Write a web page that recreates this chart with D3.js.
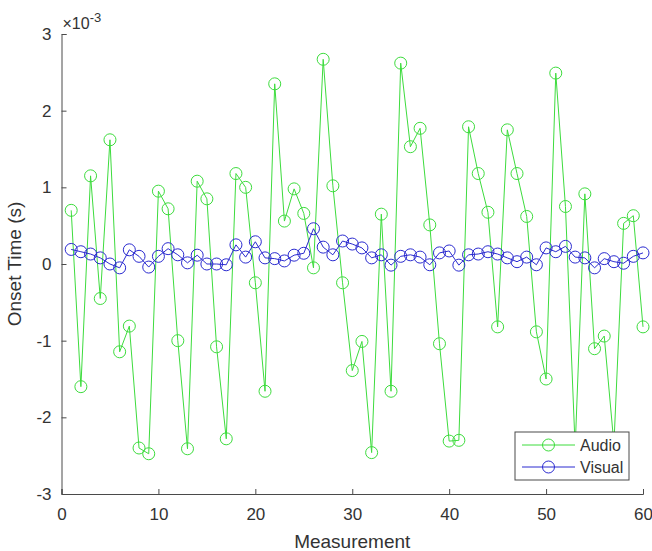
<!DOCTYPE html>
<html>
<head>
<meta charset="utf-8">
<script src="https://cdn.jsdelivr.net/npm/d3@7"></script>
<style>
  body { margin: 0; background: #fff; }
  text { font-family: "Liberation Sans", Arial, Helvetica, sans-serif; fill: #333; }
</style>
</head>
<body>
<div id="chart"></div>
<script>
// onset times in units of 1e-3 s, measurement 1..60
const audio = [
  0.70, -1.60, 1.15, -0.45, 1.62, -1.145, -0.81, -2.40, -2.475, 0.95,
  0.72, -1.00, -2.41, 1.08, 0.85, -1.08, -2.28, 1.18, 1.00, -0.245,
  -1.66, 2.35, 0.56, 0.98, 0.66, -0.05, 2.67, 1.02, -0.245, -1.39,
  -1.01, -2.46, 0.65, -1.66, 2.62, 1.53, 1.77, 0.51, -1.04, -2.31,
  -2.30, 1.79, 1.18, 0.675, -0.82, 1.75, 1.18, 0.62, -0.885, -1.50,
  2.49, 0.75, -2.40, 0.915, -1.105, -0.94, -2.35, 0.53, 0.63, -0.82
];
const visual = [
  0.19, 0.16, 0.13, 0.08, 0.00, -0.05, 0.185, 0.10, -0.04, 0.10,
  0.20, 0.12, 0.015, 0.115, 0.00, 0.00, -0.01, 0.25, 0.09, 0.29,
  0.08, 0.07, 0.04, 0.115, 0.14, 0.46, 0.22, 0.12, 0.30, 0.26,
  0.21, 0.08, 0.12, -0.015, 0.10, 0.12, 0.09, -0.01, 0.145, 0.17,
  -0.015, 0.12, 0.13, 0.16, 0.13, 0.08, 0.03, 0.09, -0.01, 0.21,
  0.16, 0.23, 0.09, 0.08, -0.05, 0.07, 0.03, 0.01, 0.10, 0.145
];
const seriesNames = ["Audio", "Visual"];
const seriesColors = ["#3ddc3d", "#2b2bd0"];
const xTicks = [0, 10, 20, 30, 40, 50, 60];
const yTicks = [-3, -2, -1, 0, 1, 2, 3];

const W = 652, H = 551;
const margin = {top: 34, right: 9, bottom: 57, left: 61.5};
const width = W - margin.left - margin.right;
const height = H - margin.top - margin.bottom;

const svg = d3.select("#chart").append("svg")
    .attr("width", W)
    .attr("height", H);

const g = svg.append("g")
    .attr("transform", `translate(${margin.left},${margin.top})`);

const x = d3.scaleLinear().domain([0, 60]).range([0, width]);
const y = d3.scaleLinear().domain([-3, 3]).range([height, 0]);

const axisColor = "#4a4a4a";
const fmt = d => d3.format("d")(d).replace("\u2212", "-");

// x axis (ticks pointing inward)
const xAxis = g.append("g")
    .attr("transform", `translate(0,${height})`)
    .call(d3.axisBottom(x).tickValues(xTicks).tickFormat(fmt).tickSize(-5).tickPadding(14));
xAxis.select(".domain").attr("stroke", axisColor);
xAxis.selectAll(".tick line").attr("stroke", axisColor);
xAxis.selectAll(".tick text").attr("font-size", 17).attr("fill", "#333");

// y axis
const yAxis = g.append("g")
    .call(d3.axisLeft(y).tickValues(yTicks).tickFormat(fmt).tickSize(-5).tickPadding(10));
yAxis.select(".domain").attr("stroke", axisColor);
yAxis.selectAll(".tick line").attr("stroke", axisColor);
yAxis.selectAll(".tick text").attr("font-size", 17).attr("fill", "#333");

// exponent label
const expo = g.append("text")
    .attr("x", 1)
    .attr("y", -5)
    .attr("font-size", 16);
expo.append("tspan").text("\u00d710");
expo.append("tspan").attr("dy", -7).attr("font-size", 13).text("-3");

// axis titles
g.append("text")
    .attr("x", x(30))
    .attr("y", height + 54)
    .attr("text-anchor", "middle")
    .attr("font-size", 19)
    .text("Measurement");

g.append("text")
    .attr("transform", `translate(${-41},${y(0)}) rotate(-90)`)
    .attr("text-anchor", "middle")
    .attr("font-size", 19)
    .text("Onset Time (s)");

const line = d3.line()
    .x((d, i) => x(i + 1))
    .y(d => y(d));

[audio, visual].forEach((data, k) => {
    g.append("path")
        .datum(data)
        .attr("fill", "none")
        .attr("stroke", seriesColors[k])
        .attr("stroke-width", 1)
        .attr("d", line);
    g.selectAll(".pt" + k)
        .data(data)
        .enter().append("circle")
        .attr("class", "pt" + k)
        .attr("cx", (d, i) => x(i + 1))
        .attr("cy", d => y(d))
        .attr("r", 6)
        .attr("fill", "none")
        .attr("stroke", seriesColors[k])
        .attr("stroke-width", 1);
});

// legend
const legend = g.append("g")
    .attr("transform", `translate(${515 - margin.left},${432 - margin.top})`);
legend.append("rect")
    .attr("width", 114)
    .attr("height", 48)
    .attr("fill", "#fff")
    .attr("stroke", axisColor)
    .attr("stroke-width", 1);
seriesNames.forEach((name, k) => {
    const ly = 13 + k * 22;
    legend.append("line")
        .attr("x1", 7).attr("x2", 60)
        .attr("y1", ly).attr("y2", ly)
        .attr("stroke", seriesColors[k]);
    legend.append("circle")
        .attr("cx", 33.5).attr("cy", ly).attr("r", 6)
        .attr("fill", "none")
        .attr("stroke", seriesColors[k]);
    legend.append("text")
        .attr("x", 65)
        .attr("y", ly + 6)
        .attr("font-size", 16)
        .text(name);
});
</script>
</body>
</html>
